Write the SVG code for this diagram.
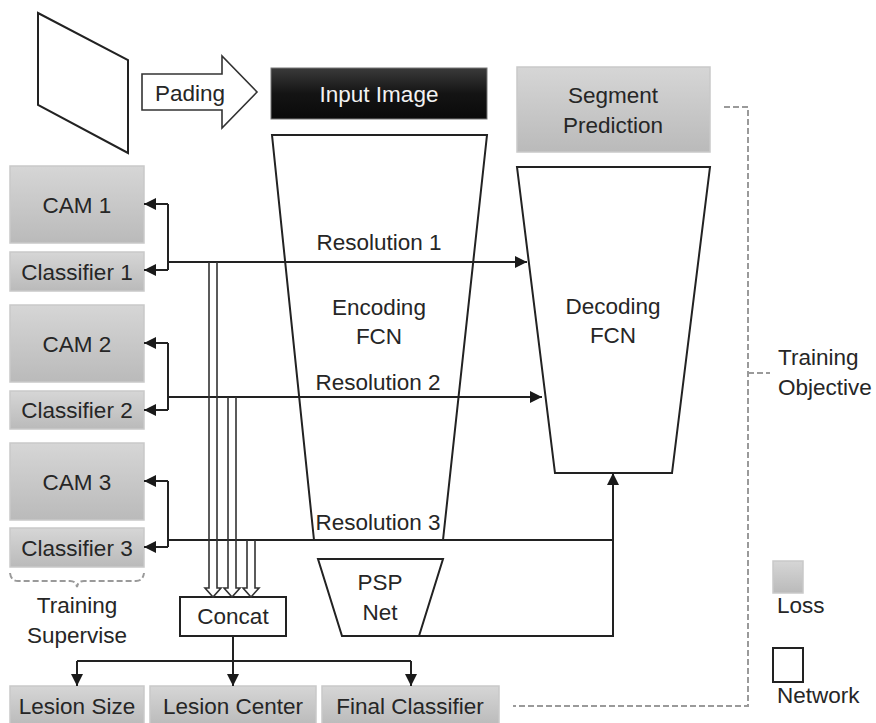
<svg xmlns="http://www.w3.org/2000/svg" width="876" height="723" viewBox="0 0 876 723">
<defs>
<linearGradient id="gGray" x1="0" y1="0" x2="0" y2="1"><stop offset="0" stop-color="#d6d6d6"/><stop offset="1" stop-color="#bababa"/></linearGradient>
<linearGradient id="gBlack" x1="0" y1="0" x2="0" y2="1"><stop offset="0" stop-color="#3a3a3a"/><stop offset="0.5" stop-color="#141414"/><stop offset="1" stop-color="#0a0a0a"/></linearGradient>
<marker id="ah" viewBox="0 0 12 12" refX="12" refY="6" markerWidth="12" markerHeight="12" markerUnits="userSpaceOnUse" orient="auto"><path d="M0,0 L12,6 L0,12 z" fill="#1a1a1a"/></marker>
</defs>
<style>
text{font-family:"Liberation Sans",Arial,sans-serif;font-size:22.5px;fill:#262626;text-anchor:middle}
.loss{fill:url(#gGray);stroke:#c9c9c9;stroke-width:1.5}
.net{fill:#fff;stroke:#222;stroke-width:2}
.ln{fill:none;stroke:#222;stroke-width:2}
.arr{fill:none;stroke:#222;stroke-width:2;marker-end:url(#ah)}
.hol{fill:none;stroke:#333;stroke-width:1.6}
.dash{fill:none;stroke:#9a9a9a;stroke-width:2;stroke-dasharray:6 3}
.lt{text-anchor:start}
</style>
<rect width="876" height="723" fill="#fff"/>

<g id="image-sheet"><polygon class="net" points="38,13 128,60 128,153 38,105"/></g>
<g id="padding"><polygon points="142,74 222,74 222,56 257,92 222,128 222,110 142,110" fill="#fff" stroke="#333" stroke-width="1.6"/><text x="190" y="101">Pading</text></g>
<g id="input-image"><rect x="271" y="68" width="216" height="51" fill="url(#gBlack)" stroke="#777" stroke-width="1"/><text x="379" y="102" style="fill:#f2f2f2">Input Image</text></g>
<g id="encoding-fcn"><polygon class="net" points="272,135 487,135 443,540 314,540"/><text x="379" y="315">Encoding</text><text x="379" y="344">FCN</text></g>
<g id="segment-prediction"><rect class="loss" x="517" y="67" width="193" height="85"/><text x="613" y="103">Segment</text><text x="613" y="133">Prediction</text></g>
<g id="decoding-fcn"><polygon class="net" points="517,167 710,167 672,473 555,473"/><text x="613" y="314">Decoding</text><text x="613" y="343">FCN</text></g>
<g id="psp-net"><polygon class="net" points="318,559 443,559 419,636 342,636"/><text x="380" y="590">PSP</text><text x="380" y="620">Net</text></g>
<g id="cam1"><rect class="loss" x="10" y="166" width="134" height="77"/><text x="77" y="213">CAM 1</text></g>
<g id="classifier1"><rect class="loss" x="10" y="252" width="134" height="39"/><text x="77" y="280">Classifier 1</text></g>
<g id="cam2"><rect class="loss" x="10" y="305" width="134" height="77"/><text x="77" y="352">CAM 2</text></g>
<g id="classifier2"><rect class="loss" x="10" y="391" width="134" height="38"/><text x="77" y="418">Classifier 2</text></g>
<g id="cam3"><rect class="loss" x="10" y="443" width="134" height="77"/><text x="77" y="490">CAM 3</text></g>
<g id="classifier3"><rect class="loss" x="10" y="528" width="134" height="39"/><text x="77" y="556">Classifier 3</text></g>
<g id="training-supervise"><path class="dash" d="M10,573 Q11,581 18,581 H70 Q76,581 77,587 Q78,581 84,581 H136 Q143,581 144,573" stroke-width="1.6"/><text x="77" y="613">Training</text><text x="77" y="643">Supervise</text></g>
<g id="concat"><rect class="net" x="180" y="597" width="106" height="39" stroke-width="1.6"/><text x="233" y="624">Concat</text></g>
<g id="lesion-size"><rect class="loss" x="10" y="686" width="134" height="40"/><text x="77" y="714">Lesion Size</text></g>
<g id="lesion-center"><rect class="loss" x="150" y="686" width="166" height="40"/><text x="233" y="714">Lesion Center</text></g>
<g id="final-classifier"><rect class="loss" x="322" y="686" width="177" height="40"/><text x="410" y="714">Final Classifier</text></g>
<g id="training-objective"><text class="lt" x="778" y="365">Training</text><text class="lt" x="778" y="395">Objective</text></g>
<g id="legend-loss"><rect class="loss" x="773" y="561" width="30" height="32"/><text class="lt" x="777" y="613">Loss</text></g>
<g id="legend-network"><rect class="net" x="773" y="648" width="30" height="34"/><text class="lt" x="777" y="703">Network</text></g>

<g id="connectors">
<path class="ln" d="M168,204 V270"/>
<path class="arr" d="M168,204 H144"/>
<path class="arr" d="M168,270 H144"/>
<path class="arr" d="M168,262 H527"/>
<path class="ln" d="M168,343 V410"/>
<path class="arr" d="M168,343 H144"/>
<path class="arr" d="M168,410 H144"/>
<path class="arr" d="M168,397 H542"/>
<path class="ln" d="M168,481 V547"/>
<path class="arr" d="M168,481 H144"/>
<path class="arr" d="M168,547 H144"/>
<path class="ln" d="M168,540 H613"/>
<path class="arr" d="M419,636 H613 V473"/>
<path class="hol" d="M209,262 V588 H205 L213,597 L221,588 H217 V262"/>
<path class="hol" d="M228,397 V588 H224 L232,597 L240,588 H236 V397"/>
<path class="hol" d="M247,540 V588 H243 L251,597 L259,588 H255 V540"/>
<path class="ln" d="M233,636 V661 M77,661 H411"/>
<path class="arr" d="M77,661 V686"/>
<path class="arr" d="M233,661 V686"/>
<path class="arr" d="M411,661 V686"/>
<path class="dash" d="M724,107 H748 V706 H513"/>
<path class="dash" d="M748,373 H770"/>
<text x="379" y="250">Resolution 1</text>
<text x="378" y="390">Resolution 2</text>
<text x="378" y="530">Resolution 3</text>
</g>
</svg>
